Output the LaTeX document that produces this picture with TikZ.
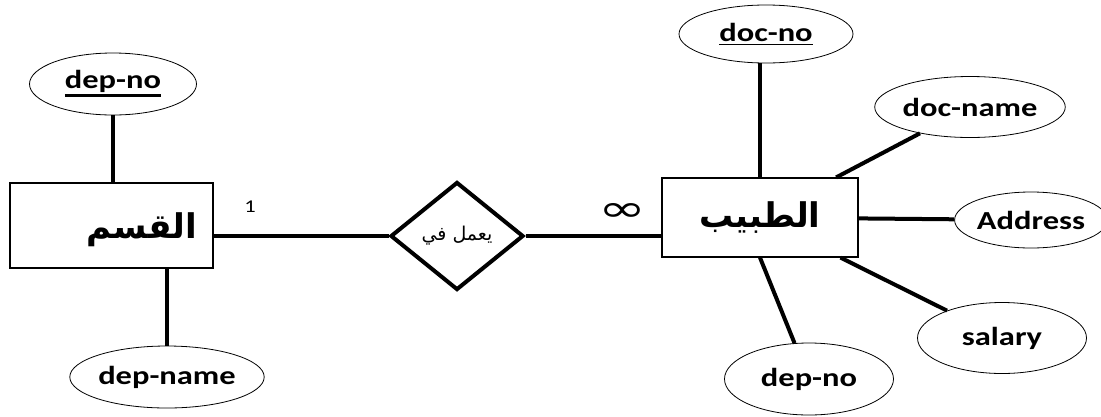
\documentclass[tikz,border=0pt]{standalone}
\usepackage{fontspec}
\usepackage{graphicx}
\usetikzlibrary{shapes.geometric}
\TeXXeTstate=1
\setmainfont[FakeStretch=1.25]{Carlito}
\newfontfamily\arabisch[Script=Arabic]{DejaVu Sans}
\newfontfamily\zeichen{DejaVu Sans}
\newcommand{\schluessel}[2]{\vtop{\hbox{#2}\kern1.5pt\hrule height #1}}

\begin{document}
\begin{tikzpicture}[x=1pt,y=-1pt,
	entity/.style={draw, line width=1.2pt, rectangle, inner sep=0pt},
	attr/.style={draw, line width=0.8pt, ellipse, inner sep=0pt, font=\bfseries\fontsize{26}{26}\selectfont},
	rel/.style={draw, line width=4pt, diamond, inner sep=0pt, minimum width=133pt, minimum height=108pt},
	verb/.style={line width=4pt}]
	
	\useasboundingbox (0,0) rectangle (1101,416);
	
	%Entitaeten
	\node[entity, minimum width=203pt, minimum height=85pt] (qism) at (111.5,225.5) {};
	\node[font=\arabisch\bfseries\fontsize{34}{34}\selectfont] (qismtext) at (142,230) {\beginR القسم\endR};
	\node[entity, minimum width=196pt, minimum height=79pt, font=\arabisch\bfseries\fontsize{34}{34}\selectfont] (tabib) at (760,217.5) {\beginR الطبيب\endR};
	
	%Beziehung
	\node[rel, font=\arabisch\fontsize{19}{19}\selectfont] (amal) at (457,236) {\beginR يعمل في\endR};
	
	%Attribute
	\node[attr, minimum width=167pt, minimum height=62pt] (depno) at (113,84) {\schluessel{3pt}{dep-no}};
	\node[attr, minimum width=177pt, minimum height=62pt] (depname) at (167,377) {dep-name};
	\node[attr, minimum width=174pt, minimum height=58pt] (docno) at (766,34) {\schluessel{0.8pt}{doc-no}};
	\node[attr, minimum width=174pt, minimum height=61pt] (docname) at (970,107) {doc-name};
	\node[attr, minimum width=132pt, minimum height=56pt] (address) at (1031,220) {Address};
	\node[attr, minimum width=169pt, minimum height=71pt] (salary) at (1002,338) {salary};
	\node[attr, minimum width=169pt, minimum height=72pt] (depnob) at (809,379) {dep-no};
	
	%Kardinalitaeten
	\node[font=\fontsize{18}{18}\selectfont] (eins) at (250,207) {1};
	\node (viele) at (623,212) {\resizebox{48pt}{18pt}{\zeichen ∞}};
	
	%Linien
	\draw[verb] (depno.south) -- (depno.south |- qism.north);
	\draw[verb] (depname.north) -- (depname.north |- qism.south);
	\draw[verb] (qism.east |- amal.west) -- (amal.west);
	\draw[verb] (amal.east) -- (amal.east -| tabib.west);
	\draw[verb] (tabib.north) -- (tabib.north |- docno.south);
	\draw[verb] (tabib) -- (docname);
	\draw[verb] (tabib) -- (address);
	\draw[verb] (tabib) -- (salary);
	\draw[verb] (tabib.south) -- (depnob);
	
\end{tikzpicture}
\end{document}
